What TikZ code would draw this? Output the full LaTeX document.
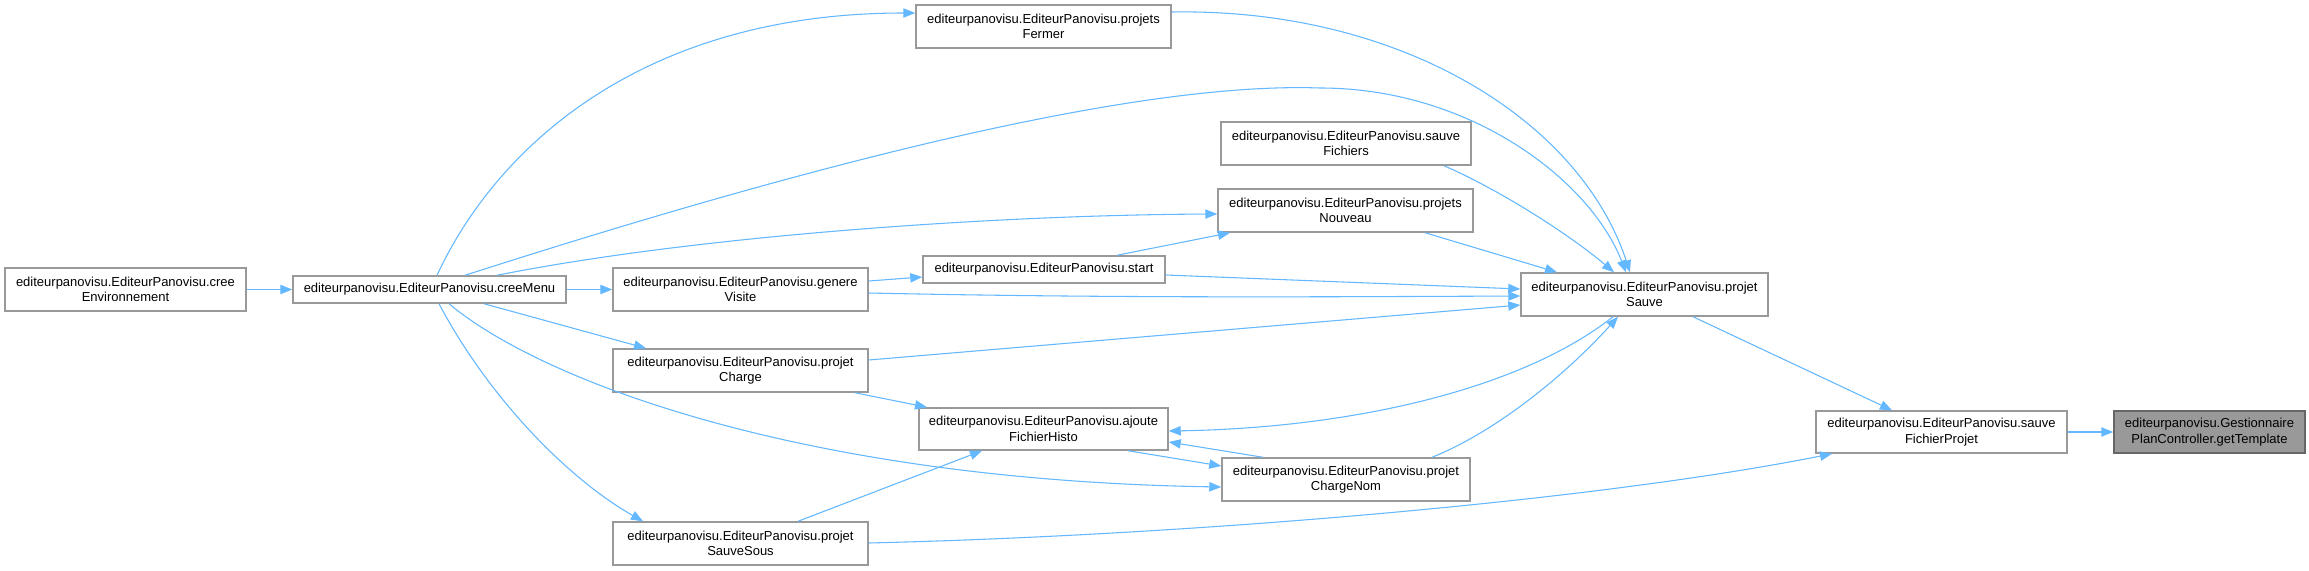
\documentclass[tikz,border=0pt]{standalone}
\usepackage{fontspec}
\setmainfont{Liberation Sans}
\usetikzlibrary{arrows.meta,calc}
\definecolor{edgeblue}{HTML}{63B8FF}
\definecolor{boxgray}{HTML}{999999}
\definecolor{curgray}{HTML}{999999}
\definecolor{curborder}{HTML}{666666}
\begin{document}
\begin{tikzpicture}[x=0.75pt,y=-0.75pt,
  fn/.style={draw=boxgray, line width=1.1pt, fill=white, inner sep=0pt, align=center, font=\fontsize{9.75pt}{11.7pt}\selectfont},
  sz/.style 2 args={minimum width=#1*0.75pt, minimum height=#2*0.75pt},
  cur/.style={fn, fill=curgray, draw=curborder},
  call/.style={draw=edgeblue, line width=0.8pt, -{Triangle[length=9pt,width=7pt]}}
]
\fill[white] (0,0) rectangle (2309,571);
\useasboundingbox (0,0) rectangle (2309,571);

\node[fn,sz={241}{43}] (cEnv) at (125.5,289.5) {editeurpanovisu.EditeurPanovisu.cree\\Environnement};
\node[fn,sz={273}{27}] (cMenu) at (429.5,289.5) {editeurpanovisu.EditeurPanovisu.creeMenu};
\node[fn,sz={255}{43}] (gVis) at (740.5,289.5) {editeurpanovisu.EditeurPanovisu.genere\\Visite};
\node[fn,sz={255}{43}] (pCharge) at (740.5,370.5) {editeurpanovisu.EditeurPanovisu.projet\\Charge};
\node[fn,sz={255}{43}] (pSauveSous) at (740.5,543.5) {editeurpanovisu.EditeurPanovisu.projet\\SauveSous};
\node[fn,sz={255}{43}] (pFermer) at (1043.5,26.5) {editeurpanovisu.EditeurPanovisu.projets\\Fermer};
\node[fn,sz={242}{27}] (start) at (1044,269.5) {editeurpanovisu.EditeurPanovisu.start};
\node[fn,sz={249}{42}] (ajFH) at (1043.5,429) {editeurpanovisu.EditeurPanovisu.ajoute\\FichierHisto};
\node[fn,sz={250}{43}] (sFichiers) at (1346,143.5) {editeurpanovisu.EditeurPanovisu.sauve\\Fichiers};
\node[fn,sz={255}{43}] (pNouveau) at (1345.5,210.5) {editeurpanovisu.EditeurPanovisu.projets\\Nouveau};
\node[fn,sz={248}{43}] (pChargeNom) at (1346,479.5) {editeurpanovisu.EditeurPanovisu.projet\\ChargeNom};
\node[fn,sz={247}{43}] (pSauve) at (1644.5,294.5) {editeurpanovisu.EditeurPanovisu.projet\\Sauve};
\node[fn,sz={251}{42}] (sFP) at (1941.5,432) {editeurpanovisu.EditeurPanovisu.sauve\\FichierProjet};
\node[cur,sz={191}{42}] (getT) at (2209.5,432) {editeurpanovisu.Gestionnaire\\PlanController.getTemplate};

\draw[call] (cEnv.east) -- (cMenu.west);
\draw[call] (cMenu.east) -- (gVis.west);
\draw[call] ($(cMenu.north)+(7.5,0)$) .. controls (500,140) and (650,13) .. ($(pFermer.west)+(0,-13.5)$);
\draw[call] ($(cMenu.north)+(35.5,0)$) .. controls (700,200) and (1100,80) .. (1320,88) .. controls (1470,88) and (1590,180) .. ($(pSauve.north)+(-18.5,0)$);
\draw[call] ($(cMenu.north)+(67.5,0)$) .. controls (700,235) and (1000,215) .. ($(pNouveau.west)+(0,3.5)$);
\draw[call] ($(cMenu.south)+(54.5,0)$) -- ($(pCharge.north)+(-94.5,0)$);
\draw[call] ($(cMenu.south)+(19.5,0)$) .. controls (540,380) and (800,480) .. ($(pChargeNom.west)+(0,7.5)$);
\draw[call] ($(cMenu.south)+(9.5,0)$) .. controls (490,400) and (570,480) .. ($(pSauveSous.north)+(-97.5,0)$);
\draw[call] ($(gVis.east)+(0,-8.5)$) -- ($(start.west)+(0,7.5)$);
\draw[call] ($(gVis.east)+(0,3.5)$) .. controls (1100,298) and (1300,297) .. ($(pSauve.west)+(0,1.5)$);
\draw[call] ($(start.north)+(73,0)$) -- ($(pNouveau.south)+(-115.5,0)$);
\draw[call] ($(start.east)+(0,5.5)$) -- ($(pSauve.west)+(0,-5.5)$);
\draw[call] ($(pFermer.east)+(0,-14.5)$) .. controls (1400,8) and (1580,120) .. ($(pSauve.north)+(-14.5,0)$);
\draw[call] ($(sFichiers.south)+(98,0)$) .. controls (1500,190) and (1570,235) .. ($(pSauve.north)+(-30.5,0)$);
\draw[call] ($(pNouveau.south)+(79.5,0)$) -- ($(pSauve.north)+(-87.5,0)$);
\draw[call] ($(pCharge.east)+(0,-10.5)$) -- ($(pSauve.west)+(0,10.5)$);
\draw[call] ($(pCharge.south)+(114.5,0)$) -- ($(ajFH.north)+(-116.5,0)$);
\draw[call] ($(pSauve.south)+(-31.5,0)$) .. controls (1520,390) and (1350,428) .. ($(ajFH.east)+(0,2)$);
\draw[call] ($(pChargeNom.north)+(-83,0)$) -- ($(ajFH.east)+(0,13)$);
\draw[call] ($(ajFH.south)+(84.5,0)$) -- ($(pChargeNom.west)+(0,-13.5)$);
\draw[call] ($(pChargeNom.north)+(86,0)$) .. controls (1500,430) and (1570,370) .. ($(pSauve.south)+(-26.5,0)$);
\draw[call] ($(pSauve.south)+(48.5,0)$) -- ($(sFP.north)+(-49.5,0)$);
\draw[call] ($(pSauveSous.north)+(57.5,0)$) -- ($(ajFH.south)+(-61.5,0)$);
\draw[call] ($(pSauveSous.east)+(0,-0.5)$) .. controls (1200,535) and (1600,500) .. ($(sFP.south)+(-109.5,0)$);
\draw[call] (sFP.east) -- (getT.west);
\end{tikzpicture}
\end{document}
